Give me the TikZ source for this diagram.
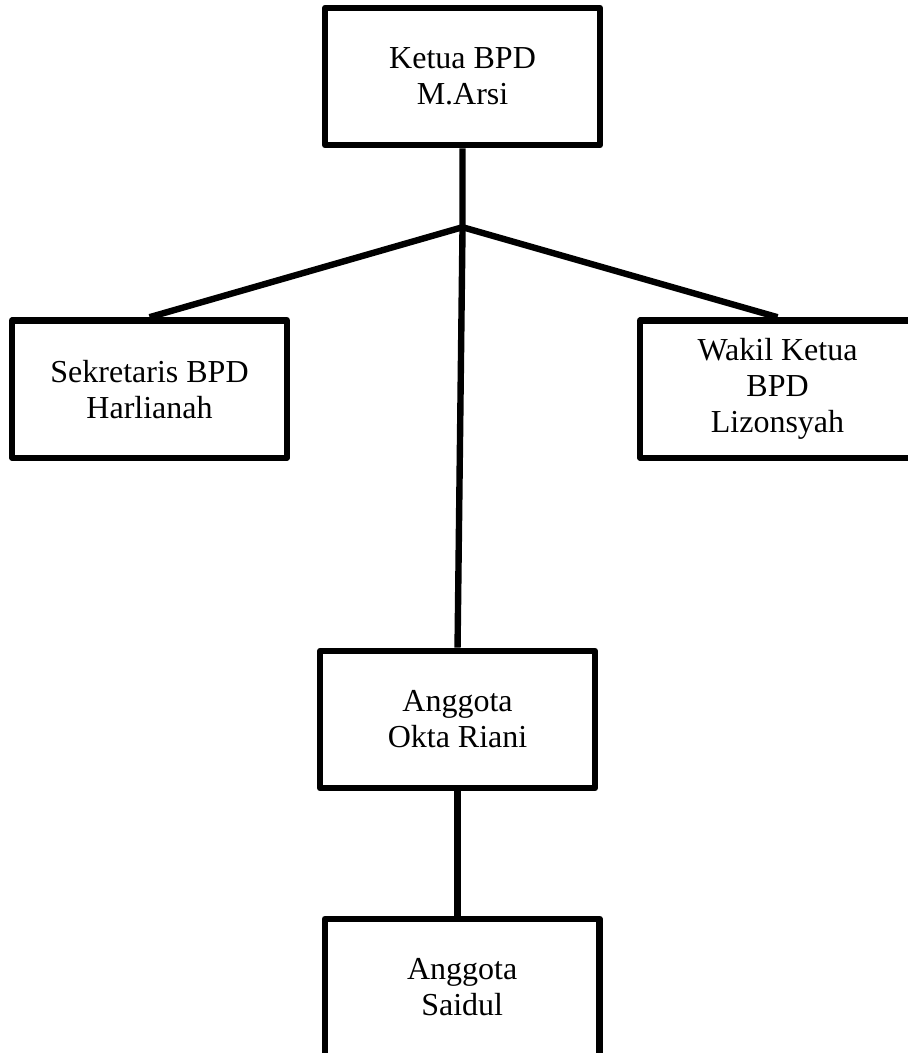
\documentclass[tikz,border=0pt]{standalone}
\usepackage{fontspec}
\setmainfont{Liberation Serif}
\usetikzlibrary{positioning}

\begin{document}
\begin{tikzpicture}[-, auto, on grid, line width=4.8pt, line join=round, jabatan/.style={draw, black, line width=4.8pt, minimum width=206pt, minimum height=103pt, align=center, font=\fontsize{24}{27}\selectfont}]
	\useasboundingbox (0,0) rectangle (680.25pt,-789.75pt);
	\node[jabatan] (ketua) at (346.9pt,-57.4pt) {Ketua BPD\\M.Arsi};
	\node[jabatan] (sekretaris) [below left=234.4pt and 234.75pt of ketua] {Sekretaris BPD\\Harlianah};
	\node[jabatan] (wakil) [below right=234.4pt and 236.25pt of ketua] {Wakil Ketua\\BPD\\Lizonsyah};
	\node[jabatan] (okta) [below=482.25pt of ketua, xshift=-3.75pt] {Anggota\\Okta Riani};
	\node[jabatan] (saidul) [below=201pt of okta, xshift=3.5pt] {Anggota\\Saidul};
	\coordinate[below=113pt of ketua] (cabang);
	
	\draw (ketua.south) -- (cabang) -- (okta.north);
	\draw (sekretaris.north) -- (cabang) -- (wakil.north);
	\draw[line width=5.4pt] (okta.south) -- (okta.south |- saidul.north);
	
\end{tikzpicture}
\end{document}
